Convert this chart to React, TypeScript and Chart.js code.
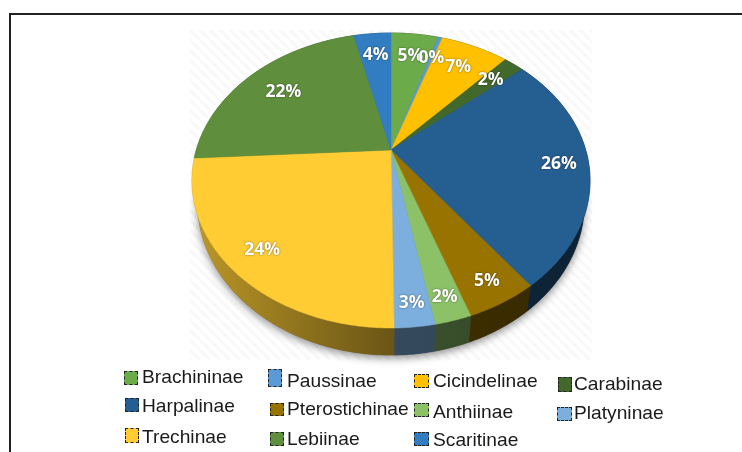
import React, { useEffect, useRef } from "react";
import { Chart, registerables } from "chart.js";

Chart.register(...registerables);

const categories = ["Brachininae", "Paussinae", "Cicindelinae", "Carabinae", "Harpalinae", "Pterostichinae", "Anthiinae", "Platyninae", "Trechinae", "Lebiinae", "Scaritinae"];
const shares = [4.7, 0.4, 6.7, 2, 26, 4.85, 2.45, 2.7, 24.3, 22.2, 3.7];
const sliceColors = ["#6CAB4A", "#5B9BD5", "#FFC000", "#43682B", "#255E91", "#997300", "#8CC168", "#7CAFDD", "#FFCD33", "#5F8F3C", "#327DC2"];
const labelReach = [0.78, 0.79, 0.775, 0.79, 0.85, 0.88, 0.885, 0.889, 0.846, 0.754, 0.79];

const legendBoxes = [
  [124, 371, 14, 14, 142, 377], [268, 369, 14, 18, 287, 381], [414, 374, 15, 14, 433, 381], [558, 377, 14, 15, 574, 384],
  [125, 398, 14, 14, 142, 406], [270, 403, 14, 13, 287, 409], [414, 403, 15, 14, 433, 412], [557, 407, 15, 14, 574, 413],
  [125, 428, 14, 15, 142, 437], [270, 432, 14, 14, 287, 439], [414, 432, 15, 14, 433, 440],
];

const CX = 391, Y0 = 150, A = 194.7, B = 141.2, K = -0.2068, DEPTH = 21.5, SHRINK = 0.972;

const project = (angle: number, r: number) => {
  const u = r * Math.cos(angle), v = r * Math.sin(angle), w = 1 + K * v;
  return { x: CX + (A * u) / w, y: Y0 + (B * v) / w, w };
};
const lower = (p: { x: number; y: number; w: number }) => ({ x: CX + (p.x - CX) * SHRINK, y: p.y + DEPTH / p.w });

const shade = (hex: string, f: number) => {
  const n = parseInt(hex.slice(1), 16);
  const c = [(n >> 16) & 255, (n >> 8) & 255, n & 255].map((v) => Math.round(v * f));
  return `rgb(${c[0]},${c[1]},${c[2]})`;
};

const perspectivePie = {
  id: "perspectivePie",
  beforeDatasetDraw(chart: any) {
    const ctx: CanvasRenderingContext2D = chart.ctx;
    const arcs = chart.getDatasetMeta(0).data;
    const colors: string[] = chart.data.datasets[0].backgroundColor;
    const total = shares.reduce((a, b) => a + b, 0);

    ctx.save();
    // faint hatched backdrop
    const tile = document.createElement("canvas");
    tile.width = tile.height = 10;
    const t = tile.getContext("2d")!;
    t.fillStyle = "#ffffff";
    t.fillRect(0, 0, 10, 10);
    t.strokeStyle = "#f8f8f8";
    t.lineWidth = 3;
    for (const o of [-10, 0, 10]) {
      t.beginPath();
      t.moveTo(o, 0);
      t.lineTo(o + 10, 10);
      t.stroke();
    }
    ctx.fillStyle = ctx.createPattern(tile, "repeat")!;
    ctx.fillRect(190, 30, 402, 330);

    const ring = (a: number, b: number, r: number) => {
      const n = Math.max(2, Math.ceil(Math.abs(b - a) / 0.01));
      const pts = [];
      for (let i = 0; i <= n; i++) pts.push(project(a + ((b - a) * i) / n, r));
      return pts;
    };

    // soft shadow below the disc
    ctx.save();
    ctx.shadowColor = "rgba(0,0,0,0.45)";
    ctx.shadowBlur = 9;
    ctx.shadowOffsetY = 3;
    ctx.fillStyle = "#555";
    ctx.beginPath();
    ring(0, Math.PI * 2, 1).map(lower).forEach((p, i) => (i ? ctx.lineTo(p.x, p.y) : ctx.moveTo(p.x, p.y)));
    ctx.closePath();
    ctx.fill();
    ctx.restore();

    // side wall
    arcs.forEach((arc: any, i: number) => {
      const top = ring(arc.startAngle, arc.endAngle, 1);
      const bottom = top.map(lower).reverse();
      const g = ctx.createLinearGradient(CX - 199, 0, CX + 199, 0);
      g.addColorStop(0, shade(colors[i], 0.74));
      g.addColorStop(0.3, shade(colors[i], 0.54));
      g.addColorStop(0.5, shade(colors[i], 0.42));
      g.addColorStop(1, shade(colors[i], 0.36));
      ctx.fillStyle = g;
      ctx.strokeStyle = g;
      ctx.lineWidth = 0.6;
      ctx.beginPath();
      [...top, ...bottom].forEach((p, j) => (j ? ctx.lineTo(p.x, p.y) : ctx.moveTo(p.x, p.y)));
      ctx.closePath();
      ctx.fill();
      ctx.stroke();
    });

    // top face
    arcs.forEach((arc: any, i: number) => {
      const pts = ring(arc.startAngle, arc.endAngle, 1);
      ctx.fillStyle = colors[i];
      ctx.strokeStyle = colors[i];
      ctx.lineWidth = 0.5;
      ctx.beginPath();
      ctx.moveTo(CX, Y0);
      pts.forEach((p) => ctx.lineTo(p.x, p.y));
      ctx.closePath();
      ctx.fill();
      ctx.stroke();
    });

    // percentage labels
    ctx.font = 'bold 17.5px "Open Sans"';
    ctx.textAlign = "center";
    ctx.textBaseline = "middle";
    arcs.forEach((arc: any, i: number) => {
      const mid = (arc.startAngle + arc.endAngle) / 2;
      const p = project(mid, labelReach[i]);
      ctx.shadowColor = "rgba(0,0,0,0.55)";
      ctx.shadowBlur = 2;
      ctx.fillStyle = "#ffffff";
      ctx.fillText(`${Math.round((shares[i] / total) * 100)}%`, p.x, p.y);
    });
    ctx.restore();
    return false;
  },
};

export default function App() {
  const ref = useRef<HTMLCanvasElement>(null);
  useEffect(() => {
    const chart = new Chart(ref.current!, {
      type: "pie",
      data: { labels: categories, datasets: [{ data: shares, backgroundColor: sliceColors, borderWidth: 0 }] },
      options: {
        responsive: false,
        animation: false,
        plugins: { legend: { display: false }, tooltip: { enabled: false } },
      },
      plugins: [perspectivePie],
    } as any);
    return () => chart.destroy();
  }, []);

  return (
    <div style={{ position: "fixed", left: 0, top: 0, width: 742, height: 452, overflow: "hidden", background: "#fff", filter: "blur(0.35px)" }}>
      <canvas ref={ref} width={742} height={452} style={{ position: "absolute", left: 0, top: 0 }} />
      <div style={{ position: "absolute", left: 9, top: 13, width: 733, height: 2, background: "#222" }} />
      <div style={{ position: "absolute", left: 9, top: 13, width: 2, height: 439, background: "#222" }} />
      {categories.map((name, i) => {
        const [x, y, w, h, tx, ty] = legendBoxes[i];
        return (
          <React.Fragment key={name}>
            <div style={{ position: "absolute", left: x, top: y, width: w, height: h, boxSizing: "border-box", background: sliceColors[i], border: "1px dashed #222" }} />
            <div style={{ position: "absolute", left: tx, top: ty - 12, height: 24, lineHeight: "24px", fontFamily: '"Liberation Sans"', fontSize: 17.8, color: "#1a1a1a", whiteSpace: "nowrap", transform: "scaleX(1.08)", transformOrigin: "left center" }}>{name}</div>
          </React.Fragment>
        );
      })}
    </div>
  );
}
